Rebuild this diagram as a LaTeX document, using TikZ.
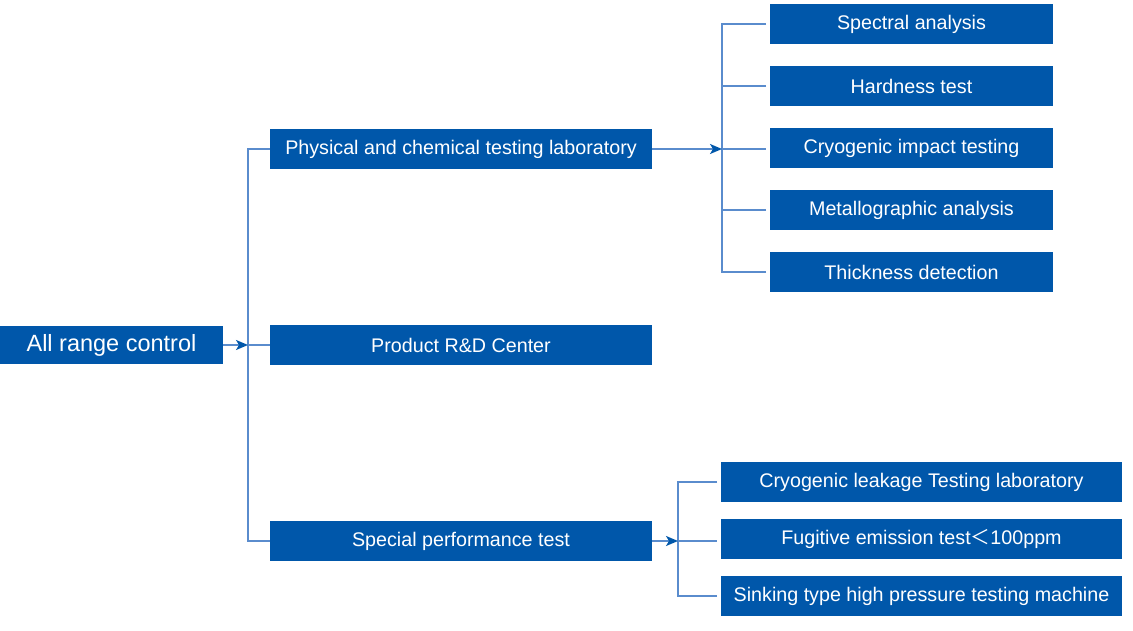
\documentclass[tikz,border=0pt]{standalone}
\usepackage{fontspec}
\setmainfont{Liberation Sans}
\newfontfamily\cjk{Noto Sans CJK SC}
\usetikzlibrary{arrows.meta}
\definecolor{boxblue}{RGB}{0,87,170}
\definecolor{lineblue}{RGB}{90,140,205}
\begin{document}
\begin{tikzpicture}[x=1pt,y=-1pt,
  bx/.style={fill=boxblue,draw=none,text=white,anchor=north west,inner sep=0pt,outer sep=0pt,
    font=\fontsize{19.7}{21}\selectfont,align=center},
  cbx/.style={bx,outer sep=4pt},
  conn/.style={draw=lineblue,line width=1.6pt},
  arr/.style={conn,-{Stealth[length=12pt,width=10pt,inset=3pt,color=boxblue]}}]
\useasboundingbox (0,0) rectangle (1133,631);
% root
\node[bx,minimum width=223pt,minimum height=38pt,font=\fontsize{23.5}{25}\selectfont] (root) at (0,326) {All range control};
% level 1
\node[bx,minimum width=382pt,minimum height=40pt] (phys) at (270,129) {Physical and chemical testing laboratory};
\node[bx,minimum width=382pt,minimum height=40pt] (rd) at (270,325) {Product R\&D Center};
\node[bx,minimum width=382pt,minimum height=40pt] (spec) at (270,521) {Special performance test};
% level 2 (physical)
\node[cbx,minimum width=283pt,minimum height=40pt] (a1) at (766,0) {Spectral analysis};
\node[cbx,minimum width=283pt,minimum height=40pt] (a2) at (766,62) {Hardness test};
\node[cbx,minimum width=283pt,minimum height=40pt] (a3) at (766,124) {Cryogenic impact testing};
\node[cbx,minimum width=283pt,minimum height=40pt] (a4) at (766,186) {Metallographic analysis};
\node[cbx,minimum width=283pt,minimum height=40pt] (a5) at (766,248) {Thickness detection};
% level 2 (special)
\node[cbx,minimum width=401pt,minimum height=40pt] (b1) at (717,458) {Cryogenic leakage Testing laboratory};
\node[cbx,minimum width=401pt,minimum height=40pt] (b2) at (717,515) {Fugitive emission test{\cjk ＜}100ppm};
\node[cbx,minimum width=401pt,minimum height=40pt] (b3) at (717,572) {Sinking type high pressure testing machine};
% trunk
\coordinate (t0) at (248,345);
\draw[conn] (phys.west) -| (t0);
\draw[conn] (spec.west) -| (t0);
\draw[conn] (t0) -- (t0 -| rd.west);
\draw[arr] (root.east) -- (root.east -| t0);
% branch physical
\coordinate (p0) at (722,149);
\draw[conn] (a1.west) -| (p0);
\draw[conn] (a5.west) -| (p0);
\draw[conn] (a2.west) -- (a2.west -| p0);
\draw[conn] (p0) -- (p0 -| a3.west);
\draw[conn] (a4.west) -- (a4.west -| p0);
\draw[arr] (phys.east) -- (phys.east -| p0);
% branch special
\coordinate (s0) at (678,541);
\draw[conn] (b1.west) -| (s0);
\draw[conn] (b3.west) -| (s0);
\draw[conn] (s0) -- (s0 -| b2.west);
\draw[arr] (spec.east) -- (spec.east -| s0);
\end{tikzpicture}
\end{document}
